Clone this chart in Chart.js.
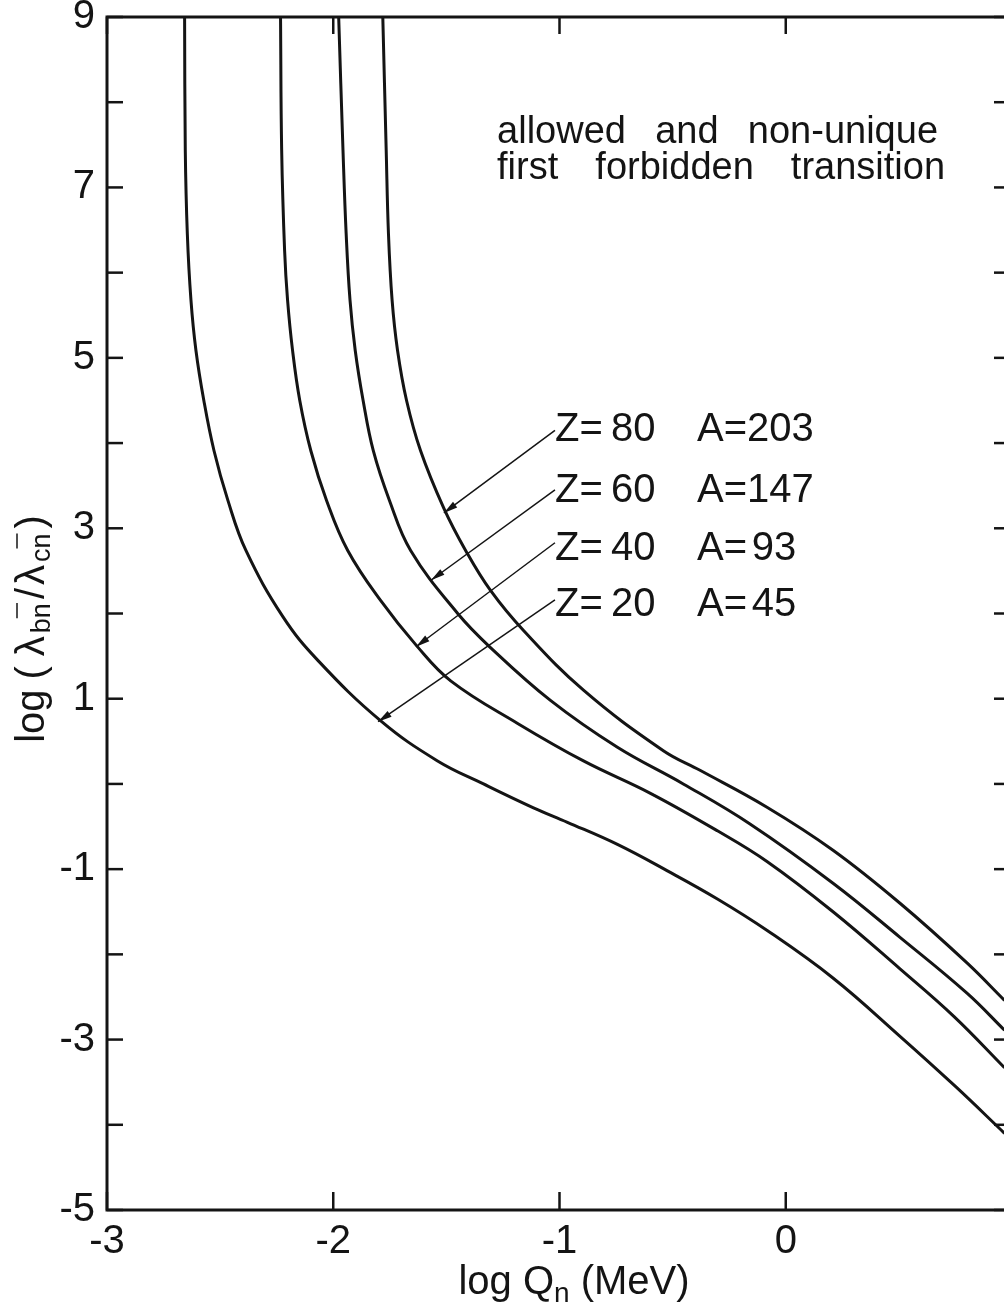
<!DOCTYPE html>
<html>
<head>
<meta charset="utf-8">
<script src="https://cdn.jsdelivr.net/npm/chart.js@4.4.0/dist/chart.umd.min.js"></script>
<style>
  html, body { margin: 0; padding: 0; background: #fff; overflow: hidden; width: 1004px; height: 1307px; position: relative; }
  #chart { position: absolute; left: 0; top: -40px; }
</style>
</head>
<body>
<canvas id="chart" width="1040" height="1400"></canvas>
<script>
// curve values: x = log Qn (MeV), y = log(lambda_b / lambda_c)
const xZ20 = [-2.657, -2.654, -2.645, -2.629, -2.607, -2.572, -2.527, -2.466, -2.386, -2.222, -2.068, -1.790, -1.539, -1.336, -1.115, -0.965, -0.744, -0.523, -0.302, -0.082, 0.210, 0.500, 0.750, 0.967];
const yZ20 = [9.0, 7.44, 6.46, 5.68, 5.09, 4.50, 3.91, 3.33, 2.74, 1.96, 1.45, 0.74, 0.27, 0.0, -0.28, -0.45, -0.71, -1.02, -1.35, -1.72, -2.28, -2.95, -3.55, -4.10];

const xZ40 = [-2.233, -2.228, -2.215, -2.202, -2.180, -2.148, -2.099, -2.030, -1.936, -1.790, -1.631, -1.481, -1.185, -0.894, -0.598, -0.302, -0.083, 0.209, 0.505, 0.744, 0.967];
const yZ40 = [9.0, 7.44, 6.26, 5.68, 5.09, 4.50, 3.91, 3.33, 2.74, 2.15, 1.62, 1.21, 0.71, 0.27, -0.11, -0.55, -0.91, -1.50, -2.17, -2.73, -3.33];

const xZ60 = [-1.976, -1.957, -1.943, -1.926, -1.903, -1.868, -1.823, -1.752, -1.658, -1.450, -1.305, -1.040, -0.744, -0.453, -0.158, 0.209, 0.505, 0.801, 0.967];
const yZ60 = [9.0, 7.44, 6.46, 5.68, 5.09, 4.50, 3.91, 3.33, 2.74, 2.00, 1.60, 0.98, 0.43, 0.0, -0.47, -1.165, -1.80, -2.455, -2.89];

const xZ80 = [-1.781, -1.766, -1.756, -1.740, -1.716, -1.676, -1.614, -1.512, -1.415, -1.305, -1.159, -0.894, -0.541, -0.379, -0.083, 0.209, 0.505, 0.801, 0.967];
const yZ80 = [9.0, 7.44, 6.46, 5.68, 5.09, 4.50, 3.91, 3.24, 2.74, 2.27, 1.80, 1.10, 0.39, 0.16, -0.273, -0.778, -1.40, -2.10, -2.54];

const xTicks = [-3, -2, -1, 0, 1];
const yTicks = [9, 7, 5, 3, 1, -1, -3, -5];

// curve labels, top row first
const labelZ = ['80', '60', '40', '20'];
const labelA = ['203', '147', '93', '45'];
const labelRowY = [4.02, 3.31, 2.63, 1.97];
const arrowFrom = [[-1.020, 4.15], [-1.020, 3.45], [-1.020, 2.83], [-1.020, 2.16]];
const arrowTo = [[-1.511, 3.18], [-1.568, 2.39], [-1.634, 1.61], [-1.802, 0.73]];

const noteLines = [['allowed', 'and', 'non-unique'], ['first', 'forbidden', 'transition']];

const FONT = '"Liberation Sans", Arial, sans-serif';
const INK = '#141414';

function toPoints(xs, ys) {
    return xs.map((x, i) => ({ x: x, y: ys[i] }));
}

function curve(label, xs, ys) {
    return {
        label: label,
        data: toPoints(xs, ys),
        showLine: true,
        borderColor: INK,
        borderWidth: 3,
        pointRadius: 0,
        tension: 0.4,
        fill: false
    };
}

function line(ctx, x1, y1, x2, y2) {
    ctx.beginPath();
    ctx.moveTo(x1, y1);
    ctx.lineTo(x2, y2);
    ctx.stroke();
}

// draws a run of text pieces centred on (cx, cy), optionally rotated
function drawParts(ctx, parts, cx, cy, rot) {
    ctx.save();
    ctx.translate(cx, cy);
    ctx.rotate(rot);
    ctx.textAlign = 'left';
    ctx.textBaseline = 'alphabetic';
    let total = 0;
    parts.forEach(p => {
        ctx.font = p.s + 'px ' + FONT;
        p.w = ctx.measureText(p.t).width;
        total += p.w + (p.gap || 0);
    });
    let px = -total / 2;
    parts.forEach(p => {
        ctx.font = p.s + 'px ' + FONT;
        ctx.fillText(p.t, px, p.dy);
        if (p.bar) {
            const nw = ctx.measureText('n').width;
            ctx.lineWidth = 1.5;
            line(ctx, px + p.w - nw, p.bar, px + p.w, p.bar);
        }
        px += p.w + (p.gap || 0);
    });
    ctx.restore();
}

const framePlugin = {
    id: 'frame',
    afterDatasetsDraw(chart) {
        const { ctx, chartArea: a, scales: { x, y } } = chart;
        ctx.save();
        ctx.strokeStyle = INK;
        ctx.fillStyle = INK;
        ctx.lineCap = 'butt';

        // box
        ctx.lineWidth = 3;
        ctx.strokeRect(a.left, a.top, a.right - a.left, a.bottom - a.top);

        // inward ticks
        ctx.lineWidth = 2.5;
        for (let v = -5; v <= 9; v++) {
            const py = y.getPixelForValue(v);
            line(ctx, a.left, py, a.left + 16, py);
            line(ctx, a.right - 18, py, a.right, py);
        }
        for (const v of xTicks) {
            const px = x.getPixelForValue(v);
            line(ctx, px, a.bottom, px, a.bottom - 18);
            line(ctx, px, a.top, px, a.top + 17);
        }

        // arrows to the curves
        ctx.lineWidth = 1.5;
        arrowFrom.forEach((p, i) => {
            const x1 = x.getPixelForValue(p[0]), y1 = y.getPixelForValue(p[1]);
            const x2 = x.getPixelForValue(arrowTo[i][0]), y2 = y.getPixelForValue(arrowTo[i][1]);
            line(ctx, x1, y1, x2, y2);
            const ang = Math.atan2(y2 - y1, x2 - x1);
            const len = 14, hw = 3.5;
            const bx = x2 - len * Math.cos(ang), by = y2 - len * Math.sin(ang);
            ctx.beginPath();
            ctx.moveTo(x2, y2);
            ctx.lineTo(bx + hw * Math.sin(ang), by - hw * Math.cos(ang));
            ctx.lineTo(bx - hw * Math.sin(ang), by + hw * Math.cos(ang));
            ctx.closePath();
            ctx.fill();
        });

        // Z / A labels
        ctx.font = '40px ' + FONT;
        ctx.textBaseline = 'alphabetic';
        ctx.textAlign = 'left';
        labelZ.forEach((z, i) => {
            const py = y.getPixelForValue(labelRowY[i]);
            ctx.fillText('Z=', x.getPixelForValue(-1.020), py);
            ctx.fillText(z, x.getPixelForValue(-0.772), py);
            ctx.fillText('A=', x.getPixelForValue(-0.392), py);
            ctx.fillText(labelA[i], x.getPixelForValue(labelA[i].length > 2 ? -0.171 : -0.150), py);
        });

        // note in the upper right, words spread across each line
        ctx.font = '38px ' + FONT;
        const noteLeft = x.getPixelForValue(-1.276);
        const noteRight = [x.getPixelForValue(0.673), x.getPixelForValue(0.704)];
        const noteY = [y.getPixelForValue(7.52), y.getPixelForValue(7.10)];
        noteLines.forEach((words, i) => {
            const widths = words.map(w => ctx.measureText(w).width);
            const total = widths.reduce((s, w) => s + w, 0);
            const gap = (noteRight[i] - noteLeft - total) / (words.length - 1);
            let cx = noteLeft;
            words.forEach((w, j) => {
                ctx.fillText(w, cx, noteY[i]);
                cx += widths[j] + gap;
            });
        });

        // x axis title: log Q_n (MeV)
        drawParts(ctx, [
            { t: 'log Q', s: 40, dy: 0 },
            { t: 'n', s: 28, dy: 8 },
            { t: ' (MeV)', s: 40, dy: 0 }
        ], a.left + 467, a.bottom + 84, 0);

        // y axis title: log (lambda_bn / lambda_cn)
        drawParts(ctx, [
            { t: 'log', s: 40, dy: 14, gap: 10 },
            { t: '(', s: 40, dy: 14, gap: 10 },
            { t: 'λ', s: 40, dy: 14, gap: 3 },
            { t: 'bn', s: 27, dy: 20, bar: -13, gap: 4 },
            { t: '/', s: 40, dy: 14, gap: 3 },
            { t: 'λ', s: 40, dy: 14, gap: 3 },
            { t: 'cn', s: 27, dy: 20, bar: -13, gap: 5 },
            { t: ')', s: 40, dy: 14 }
        ], a.left - 77, a.top + 612, -Math.PI / 2);

        ctx.restore();
    }
};

document.addEventListener('DOMContentLoaded', function () {
    const ctx = document.getElementById('chart').getContext('2d');
    new Chart(ctx, {
        type: 'scatter',
        data: {
            datasets: [
                curve('Z=20 A=45', xZ20, yZ20),
                curve('Z=40 A=93', xZ40, yZ40),
                curve('Z=60 A=147', xZ60, yZ60),
                curve('Z=80 A=203', xZ80, yZ80)
            ]
        },
        options: {
            responsive: false,
            animation: false,
            devicePixelRatio: 1,
            layout: { padding: { top: 57, right: 28, left: 0, bottom: 0 } },
            plugins: {
                legend: { display: false },
                tooltip: { enabled: false }
            },
            scales: {
                x: {
                    type: 'linear',
                    min: -3,
                    max: 1,
                    afterBuildTicks: scale => { scale.ticks = xTicks.map(v => ({ value: v })); },
                    afterFit: scale => { scale.height = 150; },
                    grid: { display: false, drawTicks: false },
                    border: { display: false },
                    ticks: {
                        color: INK,
                        padding: 8,
                        maxRotation: 0,
                        autoSkip: false,
                        font: { family: FONT, size: 40 },
                        callback: v => String(v)
                    }
                },
                y: {
                    type: 'linear',
                    min: -5,
                    max: 9,
                    afterBuildTicks: scale => { scale.ticks = yTicks.map(v => ({ value: v })); },
                    afterFit: scale => { scale.width = 107; },
                    grid: { display: false, drawTicks: false },
                    border: { display: false },
                    ticks: {
                        color: INK,
                        padding: 12,
                        autoSkip: false,
                        font: { family: FONT, size: 40 },
                        callback: v => String(v)
                    }
                }
            }
        },
        plugins: [framePlugin]
    });
});
</script>
</body>
</html>
